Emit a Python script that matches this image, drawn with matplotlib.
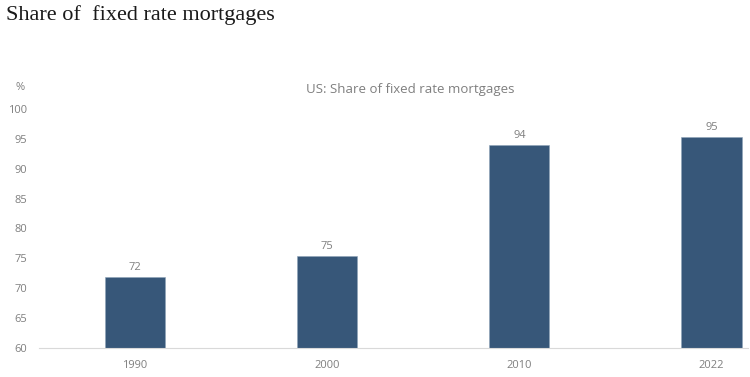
import matplotlib
matplotlib.use("Agg")
import matplotlib.pyplot as plt

years = ["1990", "2000", "2010", "2022"]
share = [71.8, 75.4, 94.0, 95.3]
labels = ["72", "75", "94", "95"]
yticks = [60, 65, 70, 75, 80, 85, 90, 95, 100]

fig = plt.figure(figsize=(7.5, 3.77), dpi=100)
ax = fig.add_axes([39/750, 1-348/377, (748-39)/750, (348-109)/377])

x = list(range(len(years)))
bars = ax.bar(x, share, width=0.3125, color="#375779", edgecolor="#8fa3b8", linewidth=0.4, zorder=2)
for xi, v, lab in zip(x, share, labels):
    ax.annotate(lab, (xi, v), xytext=(0, 3), textcoords="offset points",
                ha="center", va="bottom", fontsize=8, color="#7f7f7f", family="Open Sans")

ax.set_ylim(60, 100)
ax.set_yticks(yticks)
ax.set_xlim(-0.5, 3.19)
ax.set_xticks(x)
ax.set_xticklabels(years)
for s in ["top", "right", "left"]:
    ax.spines[s].set_visible(False)
ax.spines["bottom"].set_color("#d9d9d9")
ax.spines["bottom"].set_linewidth(0.8)
ax.tick_params(axis="both", length=0, labelsize=8, labelcolor="#7f7f7f")
ax.tick_params(axis="y", pad=8.5)
ax.tick_params(axis="x", pad=9)
for t in ax.get_xticklabels() + ax.get_yticklabels():
    t.set_family("Open Sans")

fig.text(6/750, 1-15/377, "Share of  fixed rate mortgages", fontsize=16, family="Liberation Serif",
         color="#1a1a1a", ha="left", va="center")
fig.text(410/750, 1-89/377, "US: Share of fixed rate mortgages", fontsize=9.5, family="Open Sans",
         color="#7f7f7f", ha="center", va="center")
fig.text(20/750, 1-87/377, "%", fontsize=8, family="Open Sans", color="#7f7f7f", ha="center", va="center")

fig.savefig("out.png", dpi=100)
